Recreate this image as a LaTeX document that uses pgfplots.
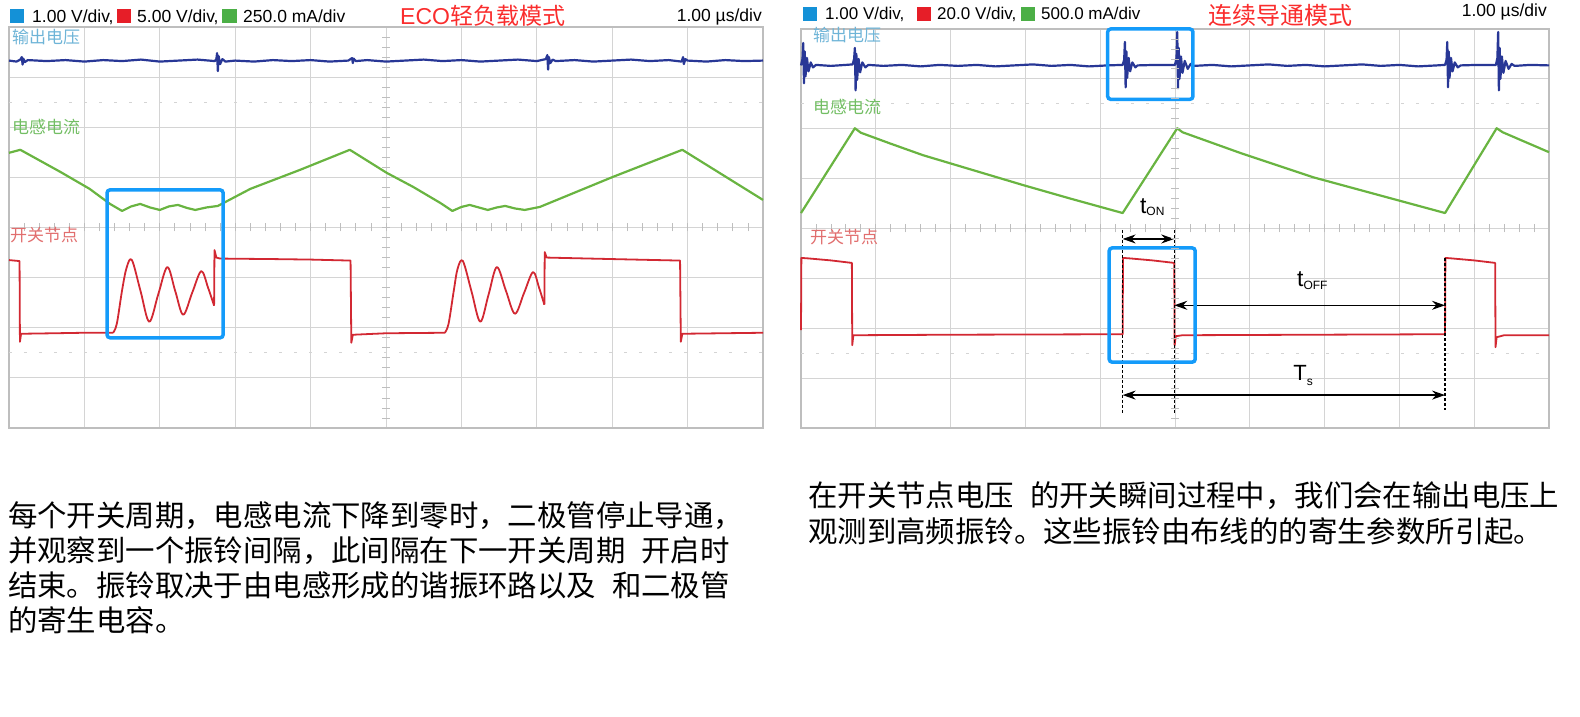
\documentclass[border=0pt]{standalone}
\usepackage{pgfplots}
\pgfplotsset{compat=1.18}
\usepackage{fontspec}
\setmainfont{Liberation Sans}
\newfontfamily\cjk{Noto Sans CJK SC}
\usetikzlibrary{arrows.meta}
\definecolor{tblue}{RGB}{40,55,150}
\definecolor{tgreen}{RGB}{105,180,65}
\definecolor{tred}{RGB}{210,40,50}
\definecolor{boxblue}{RGB}{20,155,250}
\definecolor{lblue}{RGB}{20,145,215}
\definecolor{lred}{RGB}{230,30,40}
\definecolor{lgreen}{RGB}{75,175,70}
\definecolor{titred}{RGB}{250,45,45}
\definecolor{labblue}{RGB}{110,180,215}
\definecolor{labgreen}{RGB}{115,190,100}
\definecolor{labred}{RGB}{225,110,110}
\definecolor{gridc}{RGB}{212,212,212}
\definecolor{framec}{RGB}{190,190,190}
\pgfplotsset{osc/.style={scale only axis, anchor=south west,
  xmin=0, xmax=10, ymin=0, ymax=8,
  xtick={0,...,10}, ytick={0,...,8}, xticklabels={}, yticklabels={},
  major tick length=0pt, grid=major,
  grid style={gridc, line width=0.8pt},
  axis line style={framec, line width=1.3pt}, clip=false},
  vtrace/.style={tblue, line width=2.2pt, line join=round},
  gtrace/.style={tgreen, line width=2.2pt, line join=round},
  rtrace/.style={tred, line width=1.8pt, line join=round}}
\tikzset{cbox/.style={boxblue, line width=3.5pt, rounded corners=3pt},
  dimarrow/.style={black, line width=1.2pt, {Stealth[length=13pt,width=9pt]}-{Stealth[length=13pt,width=9pt]}},
  dimline/.style={black, line width=1.1pt, dash pattern=on 3pt off 2pt},
  dotrow/.style={gridc, line width=1pt, dash pattern=on 3pt off 12pt}}
\begin{document}
\begin{tikzpicture}
\useasboundingbox (0pt,0pt) rectangle (1580pt,717pt);
% ---------------- left scope: ECO light load ----------------
\begin{axis}[osc, at={(9pt,289pt)}, width=754pt, height=401pt]
\draw[dotrow] (axis cs:0,1.5) -- (axis cs:10,1.5);
\draw[dotrow] (axis cs:0,6.5) -- (axis cs:10,6.5);
\addplot[vtrace] coordinates {
(0,7.33) (0.10,7.31) (0.15,7.35) (0.17,7.40) (0.18,7.25) (0.19,7.37) (0.21,7.30) (0.25,7.34)
(0.50,7.32) (0.75,7.34) (1.00,7.31) (1.25,7.34) (1.50,7.32) (1.75,7.35) (2.00,7.31) (2.25,7.33)
(2.50,7.35) (2.73,7.32) (2.75,7.36) (2.76,7.48) (2.77,7.12) (2.78,7.42) (2.80,7.26) (2.83,7.36)
(2.87,7.31) (3.00,7.33) (3.25,7.31) (3.50,7.34) (3.75,7.32) (4.00,7.34) (4.25,7.31) (4.50,7.33)
(4.55,7.38) (4.56,7.28) (4.57,7.37) (4.60,7.32) (4.75,7.34) (5.00,7.31) (5.25,7.33) (5.50,7.35)
(5.75,7.32) (6.00,7.34) (6.25,7.31) (6.50,7.33) (6.75,7.35) (7.00,7.32) (7.12,7.36) (7.14,7.44)
(7.15,7.15) (7.16,7.40) (7.18,7.28) (7.21,7.35) (7.25,7.32) (7.50,7.34) (7.75,7.31) (8.00,7.33)
(8.25,7.35) (8.50,7.32) (8.75,7.34) (8.92,7.31) (8.94,7.40) (8.95,7.26) (8.97,7.36) (9.00,7.33)
(9.25,7.31) (9.50,7.34) (9.75,7.32) (10.00,7.33)};
\addplot[gtrace] coordinates {
(0,5.49) (0.15,5.55) (0.68,5.11) (1.07,4.77) (1.34,4.47) (1.50,4.33) (1.62,4.42) (1.74,4.47)
(1.87,4.40) (2.00,4.35) (2.12,4.42) (2.24,4.45) (2.36,4.39) (2.47,4.35) (2.62,4.40) (2.77,4.43)
(3.20,4.77) (3.86,5.15) (4.52,5.55) (5.01,5.09) (5.36,4.81) (5.72,4.49) (5.88,4.33) (6.00,4.41)
(6.11,4.45) (6.23,4.40) (6.35,4.35) (6.47,4.40) (6.58,4.43) (6.71,4.38) (6.84,4.35) (7.04,4.41)
(8.01,5.01) (8.93,5.55) (10.00,4.55)};
\addplot[rtrace] coordinates {(0,3.35) (0.14,3.33) (0.145,1.72) (0.16,1.88) (0.6,1.89) (1.0,1.90) (1.38,1.90)};
\addplot[rtrace, smooth, tension=0.55] coordinates {(1.38,1.90) (1.43,2.08) (1.50,2.75) (1.56,3.20) (1.63,3.35) (1.745,2.73) (1.86,2.12) (1.98,2.67) (2.10,3.21) (2.205,2.73) (2.31,2.26) (2.43,2.70) (2.55,3.13) (2.64,2.80) (2.72,2.44)};
\addplot[rtrace] coordinates {(2.72,2.44) (2.725,3.55) (2.75,3.40) (2.8,3.38) (3.5,3.37) (4.0,3.36) (4.53,3.34) (4.54,1.70) (4.56,1.86) (5.0,1.89) (5.78,1.90)};
\addplot[rtrace, smooth, tension=0.55] coordinates {(5.78,1.90) (5.83,2.08) (5.90,2.75) (5.95,3.18) (6.02,3.33) (6.135,2.72) (6.25,2.12) (6.36,2.66) (6.47,3.21) (6.59,2.74) (6.71,2.28) (6.83,2.69) (6.95,3.11) (7.03,2.80) (7.10,2.46)};
\addplot[rtrace] coordinates {(7.10,2.46) (7.105,3.51) (7.13,3.40) (8.0,3.37) (8.90,3.34) (8.91,1.72) (8.93,1.88) (10,1.90)};
\draw[cbox] (axis cs:1.30,1.80) rectangle (axis cs:2.84,4.75);
\end{axis}
% ---------------- right scope: CCM ----------------
\begin{axis}[osc, at={(801pt,289pt)}, width=748pt, height=399pt]
\draw[dotrow] (axis cs:0,1.5) -- (axis cs:10,1.5);
\draw[dotrow] (axis cs:0,6.5) -- (axis cs:10,6.5);
\addplot[vtrace] coordinates {
(0.00,7.27) (0.02,7.40) (0.03,7.72) (0.04,6.91) (0.05,7.55) (0.06,7.05) (0.08,7.42) (0.10,7.15)
(0.13,7.33) (0.16,7.23) (0.20,7.28) (0.40,7.26) (0.60,7.28) (0.69,7.29) (0.71,7.40) (0.72,7.62)
(0.73,6.77) (0.74,7.50) (0.75,6.98) (0.77,7.40) (0.79,7.13) (0.82,7.33) (0.86,7.23) (0.90,7.28)
(1.10,7.26) (1.35,7.28) (1.60,7.25) (1.85,7.28) (2.10,7.26) (2.35,7.28) (2.60,7.25) (2.85,7.27)
(3.10,7.29) (3.35,7.26) (3.60,7.28) (3.85,7.25) (4.10,7.27) (4.30,7.28) (4.32,7.38) (4.33,7.74)
(4.34,6.83) (4.35,7.55) (4.36,7.02) (4.38,7.42) (4.40,7.15) (4.43,7.33) (4.47,7.23) (4.50,7.27)
(4.75,7.28) (5.00,7.28) (5.02,7.42) (5.03,7.94) (5.04,6.81) (5.05,7.62) (5.06,7.00) (5.08,7.45)
(5.10,7.12) (5.13,7.36) (5.17,7.20) (5.21,7.30) (5.25,7.26) (5.50,7.28) (5.75,7.25) (6.00,7.27)
(6.25,7.29) (6.50,7.26) (6.75,7.28) (7.00,7.25) (7.25,7.27) (7.50,7.29) (7.75,7.26) (8.00,7.28)
(8.25,7.25) (8.50,7.27) (8.61,7.28) (8.63,7.38) (8.64,7.74) (8.65,6.83) (8.66,7.55) (8.67,7.02)
(8.69,7.42) (8.71,7.15) (8.74,7.33) (8.78,7.23) (8.82,7.27) (9.05,7.28) (9.29,7.28) (9.31,7.42)
(9.32,7.94) (9.33,6.77) (9.34,7.62) (9.35,7.00) (9.37,7.45) (9.39,7.12) (9.42,7.36) (9.46,7.20)
(9.50,7.30) (9.54,7.26) (9.75,7.28) (10.00,7.27)};
\addplot[gtrace] coordinates {
(0,4.31) (0.72,6.01) (0.80,5.92) (1.20,5.70) (1.63,5.47) (2.30,5.17) (2.97,4.87) (3.60,4.60)
(4.30,4.31) (5.03,6.01) (5.10,5.93) (5.90,5.50) (6.84,5.03) (7.70,4.68) (8.61,4.31) (9.30,6.01)
(9.38,5.93) (10.00,5.53)};
\addplot[rtrace] coordinates {
(0,1.96) (0.005,3.41) (0.10,3.40) (0.40,3.36) (0.68,3.31) (0.685,1.66) (0.70,1.86) (2.0,1.87)
(4.30,1.88) (4.305,3.41) (4.40,3.40) (4.70,3.36) (4.99,3.31) (4.995,1.66) (5.01,1.84) (5.1,1.86)
(8.61,1.88) (8.615,3.41) (8.70,3.40) (9.00,3.36) (9.28,3.31) (9.285,1.62) (9.30,1.82) (9.4,1.86)
(10,1.86)};
\draw[dimline] (axis cs:4.30,3.97) -- (axis cs:4.30,0.30);
\draw[dimline] (axis cs:4.99,3.97) -- (axis cs:4.99,0.30);
\draw[dimline] (axis cs:8.61,3.41) -- (axis cs:8.61,0.36);
\draw[dimarrow] (axis cs:4.30,3.79) -- (axis cs:4.99,3.79);
\draw[dimarrow] (axis cs:4.99,2.46) -- (axis cs:8.61,2.46);
\draw[dimarrow] (axis cs:4.30,0.66) -- (axis cs:8.61,0.66);
\node[anchor=base west, inner sep=0pt, font=\fontsize{23}{25}\selectfont] at (axis cs:4.53,4.31) {t\raisebox{-2.5pt}{\fontsize{12}{12}\selectfont ON}};
\node[anchor=base west, inner sep=0pt, font=\fontsize{23}{25}\selectfont] at (axis cs:6.63,2.83) {t\raisebox{-2.5pt}{\fontsize{12}{12}\selectfont OFF}};
\node[anchor=base west, inner sep=0pt, font=\fontsize{22}{24}\selectfont] at (axis cs:6.58,0.96) {T\raisebox{-5pt}{\fontsize{12}{12}\selectfont s}};
\draw[cbox] (axis cs:4.10,6.59) rectangle (axis cs:5.24,8.0);
\draw[cbox] (axis cs:4.12,1.32) rectangle (axis cs:5.27,3.61);
\end{axis}
\begin{scope}[x=1pt,y=1pt]
% ---------------- centre-line minor ticks ----------------
\foreach \k in {1,...,39} {\draw[framec, line width=0.8pt] ({382},{289+\k*10.025}) -- ({390},{289+\k*10.025});}
\foreach \k in {1,...,49} {\draw[framec, line width=0.8pt] ({9+\k*15.08},{485.5}) -- ({9+\k*15.08},{493.5});}
\foreach \k in {1,...,39} {\draw[framec, line width=0.8pt] ({1171},{289+\k*9.975}) -- ({1179},{289+\k*9.975});}
\foreach \k in {1,...,49} {\draw[framec, line width=0.8pt] ({801+\k*14.96},{484.5}) -- ({801+\k*14.96},{492.5});}
% ---------------- headers ----------------
\fill[lblue] (10,694) rectangle (24,708);
\node[anchor=base west, inner sep=0pt, font=\fontsize{17.5}{20}\selectfont] at (32,694) {1.00 V/div,};
\fill[lred] (117,694) rectangle (131,708);
\node[anchor=base west, inner sep=0pt, font=\fontsize{17.5}{20}\selectfont] at (137,694) {5.00 V/div,};
\fill[lgreen] (222,694) rectangle (237,708);
\node[anchor=base west, inner sep=0pt, font=\fontsize{17.5}{20}\selectfont] at (243,694) {250.0 mA/div};
\node[anchor=base west, inner sep=0pt, text=titred, font=\fontsize{23}{26}\selectfont] at (400,692.5) {ECO{\cjk 轻负载模式}};
\node[anchor=base east, inner sep=0pt, font=\fontsize{17.5}{20}\selectfont] at (762,695) {1.00 µs/div};
\fill[lblue] (803,696) rectangle (817,710);
\node[anchor=base west, inner sep=0pt, font=\fontsize{17}{20}\selectfont] at (825,697) {1.00 V/div,};
\fill[lred] (917,696) rectangle (931,710);
\node[anchor=base west, inner sep=0pt, font=\fontsize{17}{20}\selectfont] at (937,697) {20.0 V/div,};
\fill[lgreen] (1021,696) rectangle (1035,710);
\node[anchor=base west, inner sep=0pt, font=\fontsize{17}{20}\selectfont] at (1041,697) {500.0 mA/div};
\node[anchor=base west, inner sep=0pt, text=titred, font=\fontsize{24}{26}\selectfont\cjk] at (1208,692) {连续导通模式};
\node[anchor=base east, inner sep=0pt, font=\fontsize{17.5}{20}\selectfont] at (1547,700) {1.00 µs/div};
% ---------------- trace labels ----------------
\node[anchor=west, inner sep=0pt, text=labblue, font=\fontsize{17}{19}\selectfont\cjk] at (12,680) {输出电压};
\node[anchor=west, inner sep=0pt, text=labgreen, font=\fontsize{17}{19}\selectfont\cjk] at (12,590) {电感电流};
\node[anchor=west, inner sep=0pt, text=labred, font=\fontsize{17}{19}\selectfont\cjk] at (10,482) {开关节点};
\node[anchor=west, inner sep=0pt, text=labblue, font=\fontsize{17}{19}\selectfont\cjk] at (813,682) {输出电压};
\node[anchor=west, inner sep=0pt, text=labgreen, font=\fontsize{17}{19}\selectfont\cjk] at (813,610) {电感电流};
\node[anchor=west, inner sep=0pt, text=labred, font=\fontsize{17}{19}\selectfont\cjk] at (810,480) {开关节点};
% ---------------- captions ----------------
\begin{scope}[every node/.style={anchor=west, inner sep=0pt, font=\fontsize{29.4}{35}\selectfont\cjk}]
\node at (8,201) {每个开关周期，电感电流下降到零时，二极管停止导通，};
\node at (8,166) {并观察到一个振铃间隔，此间隔在下一开关周期\hspace{16pt}开启时};
\node at (8,132) {结束。振铃取决于由电感形成的谐振环路以及\hspace{16pt}和二极管};
\node at (8,97) {的寄生电容。};
\node at (808,221) {在开关节点电压\hspace{16pt}的开关瞬间过程中，我们会在输出电压上};
\node at (808,186) {观测到高频振铃。这些振铃由布线的的寄生参数所引起。};
\end{scope}
\end{scope}
\end{tikzpicture}
\end{document}
